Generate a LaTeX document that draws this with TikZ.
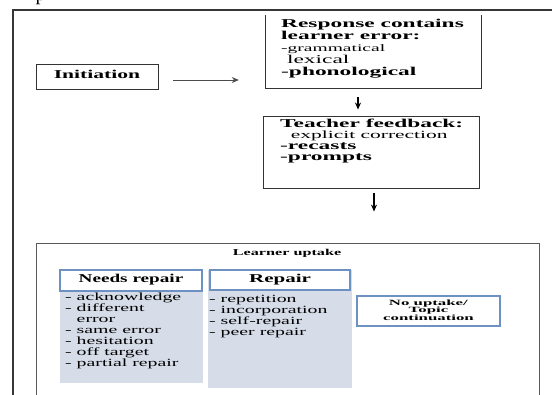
\documentclass[tikz,border=0pt]{standalone}
\usepackage{fontspec}
\setmainfont{Liberation Serif}
\usepackage{graphicx}
\usetikzlibrary{arrows.meta}
\definecolor{panelfill}{RGB}{214,221,232}
\definecolor{hdrline}{RGB}{110,145,196}
\definecolor{frameline}{RGB}{55,55,55}
% stretched text, as in the scanned figure
\newcommand{\wtext}[2]{\scalebox{#1}[1]{\begin{tabular}{@{}l@{}}#2\end{tabular}}}
\newcommand{\ctext}[2]{\scalebox{#1}[1]{\begin{tabular}{@{}c@{}}#2\end{tabular}}}
\tikzset{
        >={Stealth[length=7pt,width=6pt]}, % filled arrow heads
        outerframe/.style={draw=frameline, line width=1.2pt},
        box/.style={draw=black!80, line width=0.9pt, fill=white, inner sep=0pt, font=\fontsize{12}{12}\selectfont},
        txt/.style={inner sep=0pt, font=\fontsize{12}{12}\selectfont},
        item/.style={inner sep=0pt, font=\fontsize{11}{11}\selectfont},
        panel/.style={fill=panelfill, inner sep=0pt},
        hdr/.style={draw=hdrline, line width=1.5pt, fill=white, inner sep=0pt, font=\fontsize{12}{12}\selectfont},
        arr/.style={->, draw=black!70, line width=0.8pt},
        darr/.style={->, line width=1.2pt},
    }
\begin{document}
\begin{tikzpicture}[x=1pt, y=-1pt]
    \useasboundingbox (0,0) rectangle (552,394);
    % cut-off letter above the frame
    \node[font=\fontsize{20}{20}\selectfont, anchor=base west, inner sep=0pt] (cutp) at (35.5,0.5) {p};
    \draw[outerframe] (13,400) -- (13,10) -- (560,10);

    % top part
    \node[box, minimum width=122pt, minimum height=25pt] (init) at (97,76.5) {\ctext{1.8}{\textbf{Initiation}}};
    \node[inner sep=0pt, minimum width=215pt, minimum height=73pt] (resp) at (373.5,51.5) {};
    \draw[box] (resp.north west) -- (resp.south west) -- (resp.south east) -- (resp.north east);
    \node[txt, anchor=north west] (resptxt) at (281,19) {\wtext{1.95}{\textbf{Response contains}\\ \textbf{learner error:}\\ {\fontsize{10}{12}\selectfont -grammatical}\\ \ lexical\\ \textbf{-phonological}}};
    \node[box, minimum width=216pt, minimum height=72pt] (teach) at (371,152) {};
    \node[txt, font=\fontsize{12}{11}\selectfont, anchor=north west] (teachtxt) at (280,119) {\wtext{1.95}{\textbf{Teacher feedback:}\\ {\fontsize{11}{11}\selectfont\ \ explicit correction}\\ \textbf{-recasts}\\ \textbf{-prompts}}};

    % uptake part
    \node[box, draw=gray!70!black, minimum width=503pt, minimum height=160pt] (uptake) at (287.5,323) {};
    \node[inner sep=0pt, font=\fontsize{9}{9}\selectfont] (uptaketitle) at (287,254) {\ctext{1.8}{\textbf{Learner uptake}}};
    \node[panel, minimum width=143pt, minimum height=113pt] (needs) at (131.5,326.5) {};
    \node[panel, minimum width=144pt, minimum height=118pt] (rep) at (280,329) {};
    \node[hdr, minimum width=142pt, minimum height=21pt] (needshdr) at (131,280.5) {\ctext{1.6}{\textbf{Needs repair}}};
    \node[hdr, minimum width=140pt, minimum height=20pt] (rephdr) at (280,280) {\ctext{1.75}{\textbf{Repair}}};
    \node[item, anchor=north west] (needslist) at (65,293) {\wtext{1.8}{- acknowledge\\ - different\\ \phantom{- }error\\ - same error\\ - hesitation\\ - off target\\ - partial repair}};
    \node[item, anchor=north west] (replist) at (209,295) {\wtext{1.8}{- repetition\\ - incorporation\\ - self-repair\\ - peer repair}};
    \node[hdr, line width=2pt, minimum width=143pt, minimum height=30pt, font=\fontsize{8}{7}\selectfont] (noup) at (428.5,311) {\ctext{2.1}{\textbf{No uptake/}\\ \textbf{Topic}\\ \textbf{continuation}}};

    % arrows
    \coordinate (initout) at ([yshift=-3.5pt]init.east);
    \draw[arr, shorten <=15pt, shorten >=27pt] (initout) -- (initout -| resp.west);
    \coordinate (respout) at ([xshift=-15.5pt]resp.south);
    \draw[darr, shorten <=9pt, shorten >=6pt] (respout) -- (respout |- teach.north);
    \coordinate (teachout) at ([xshift=3pt]teach.south);
    \draw[darr, shorten <=5pt, shorten >=31pt] (teachout) -- (teachout |- uptake.north);
\end{tikzpicture}
\end{document}
